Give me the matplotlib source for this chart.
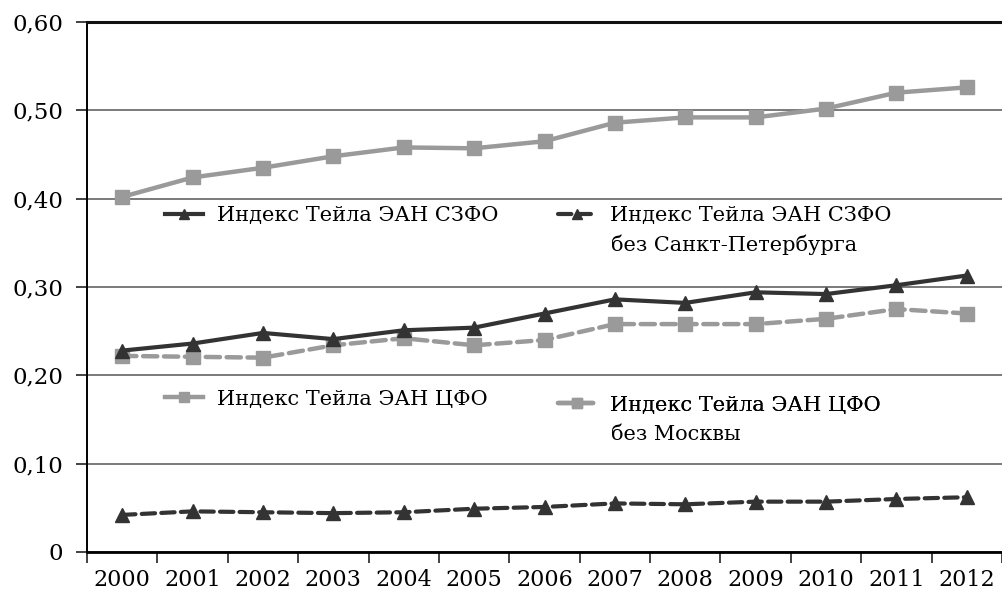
import numpy as np
import matplotlib.pyplot as plt

years = [str(y) for y in range(2000, 2013)]
szfo = [0.228, 0.236, 0.248, 0.241, 0.251, 0.254, 0.270, 0.286, 0.282, 0.294, 0.292, 0.302, 0.313]
szfo_no_spb = [0.042, 0.046, 0.045, 0.044, 0.045, 0.049, 0.051, 0.055, 0.054, 0.057, 0.057, 0.060, 0.062]
cfo = [0.402, 0.424, 0.435, 0.448, 0.458, 0.457, 0.465, 0.486, 0.492, 0.492, 0.502, 0.520, 0.526]
cfo_no_msk = [0.222, 0.221, 0.220, 0.234, 0.242, 0.234, 0.240, 0.258, 0.258, 0.258, 0.264, 0.275, 0.270]
labels = ["Индекс Тейла ЭАН СЗФО",
          "Индекс Тейла ЭАН СЗФО\nбез Санкт-Петербурга",
          "Индекс Тейла ЭАН ЦФО",
          "Индекс Тейла ЭАН ЦФО\nбез Москвы"]
yticks = [0, 0.1, 0.2, 0.3, 0.4, 0.5, 0.6]
ytick_labels = ["0", "0,10", "0,20", "0,30", "0,40", "0,50", "0,60"]

plt.rcParams['font.family'] = ['DejaVu Serif']
plt.rcParams['font.size'] = 15

dark = "#333333"
grey = "#9a9a9a"
dash = (0, (3.2, 1.5))

fig = plt.figure(figsize=(10.02, 5.91), dpi=100)
# axes box in pixels: left 87, bottom line at 552, top line at 22
ax = fig.add_axes([87/1002, 1 - 552/591, 915/1002, 530/591])
x = np.arange(len(years))

l1, = ax.plot(x, szfo, color=dark, lw=3, marker="^", ms=9.5, zorder=4)
l2, = ax.plot(x, szfo_no_spb, color=dark, lw=3, ls=dash, marker="^", ms=9.5, zorder=4)
l3, = ax.plot(x, cfo, color=grey, lw=3.2, marker="s", ms=9.5, zorder=3)
l4, = ax.plot(x, cfo_no_msk, color=grey, lw=3.2, ls=dash, marker="s", ms=9.5, zorder=3)
for ln in (l2, l4):
    ln.set_dash_capstyle("round")

ax.set_ylim(0, 0.6)
ax.set_xlim(-0.5, -0.5 + 915/70.75)
ax.set_yticks(yticks)
ax.set_yticklabels(ytick_labels, fontsize=16.5)
ax.set_xticks(x)
ax.set_xticklabels(years, fontsize=16)
ax.set_xticks(np.arange(-0.5, 13, 1), minor=True)
ax.tick_params(axis="x", which="major", length=0, pad=12)
ax.tick_params(axis="x", which="minor", length=8, width=1.2, color="#222222")
ax.tick_params(axis="y", length=8, width=1.2, color="#222222", pad=9)

ax.yaxis.grid(True, color="#707070", lw=1.3)
ax.set_axisbelow(True)
ax.spines["right"].set_visible(False)
ax.spines["top"].set_linewidth(2.2)
ax.spines["top"].set_color("#111111")
ax.spines["left"].set_linewidth(1.4)
ax.spines["bottom"].set_linewidth(2)

def px(xp, yp):
    return (xp - 87)/915, (552 - yp)/530

def add_leg(handle, text, xh, yc):
    first, *rest = text.split("\n")
    leg = ax.legend([handle], [first], loc="center left",
                    bbox_to_anchor=px(xh, yc),
                    frameon=False, borderpad=0, borderaxespad=0,
                    handlelength=1.8, handletextpad=0.7, markerscale=0.75)
    ax.add_artist(leg)
    # continuation lines of a two-line label
    for i, line in enumerate(rest, 1):
        ax.text(*px(xh + 53, yc + 29*i), line, transform=ax.transAxes,
                va="center", ha="left", fontsize=15)

add_leg(l1, labels[0], 165, 216)
add_leg(l2, labels[1], 558, 216)
add_leg(l3, labels[2], 165, 399)
add_leg(l4, labels[3], 558, 405)

fig.savefig("out.png", dpi=100)
